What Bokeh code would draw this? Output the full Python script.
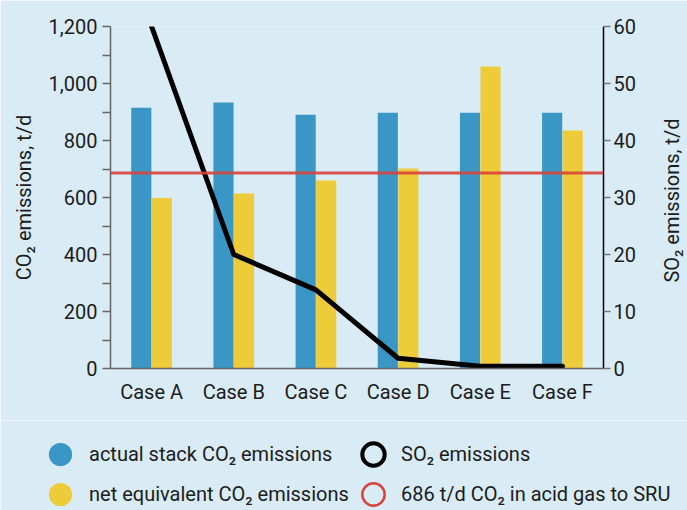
import math
from bokeh.plotting import figure
from bokeh.models import (ColumnDataSource, FactorRange, Range1d, LinearAxis, Span, Label,
                          Legend, LegendItem, NumeralTickFormatter, FixedTicker)
from bokeh.transform import dodge
from bokeh.embed import file_html
from bokeh.resources import INLINE

cases = ["Case A", "Case B", "Case C", "Case D", "Case E", "Case F"]
actual_co2 = [915, 933, 890, 897, 897, 897]
net_co2 = [598, 614, 660, 702, 1060, 835]
so2 = [60, 20, 13.8, 1.8, 0.4, 0.4]
acid_gas_co2 = 686

FONT = "Roboto"
BG = "#d9ebf5"
BLUE = "#3a97c5"
YELLOW = "#eecb38"
RED = "#d7433b"
TXT = "#1c1c1c"

src = ColumnDataSource(dict(cases=cases, actual=actual_co2, net=net_co2, so2=so2))

p = figure(x_range=FactorRange(factors=cases, range_padding=0),
           y_range=Range1d(0, 1200), width=687, height=420,
           output_backend="svg", toolbar_location=None,
           min_border_left=110, min_border_right=84, min_border_top=26, min_border_bottom=52)
p.background_fill_color = BG
p.border_fill_color = BG
p.outline_line_color = None
p.grid.visible = False

p.extra_y_ranges = {"so2": Range1d(0, 60)}

p.vbar(x=dodge("cases", -0.125, range=p.x_range), top="actual", width=0.245,
       bottom=0, source=src, fill_color=BLUE, line_color=None)
p.vbar(x=dodge("cases", 0.125, range=p.x_range), top="net", width=0.245,
       bottom=0, source=src, fill_color=YELLOW, line_color=None)

span = Span(location=acid_gas_co2, dimension="width", line_color=RED, line_width=3, line_alpha=0.9)
p.add_layout(span)

p.line(x="cases", y="so2", source=src, y_range_name="so2", line_color="black",
       line_width=5, line_join="round", line_cap="round")

# left axis
ya = p.yaxis[0]
ya.axis_label = "CO₂ emissions, t/d"
ya.formatter = NumeralTickFormatter(format="0,0")
ya.ticker = FixedTicker(ticks=[0, 200, 400, 600, 800, 1000, 1200],
                        minor_ticks=[100, 300, 500, 700, 900, 1100])
ya.axis_line_color = "#666666"
ya.axis_line_width = 1.5
ya.major_tick_line_color = "#666666"
ya.minor_tick_line_color = "#666666"
ya.major_tick_line_width = 1.5
ya.minor_tick_line_width = 1.5
ya.major_tick_in = 0
ya.major_tick_out = 8
ya.minor_tick_in = 0
ya.minor_tick_out = 8

# right axis (label drawn separately so it reads bottom-to-top and is centred)
ra = LinearAxis(y_range_name="so2")
ra.ticker = FixedTicker(ticks=[0, 10, 20, 30, 40, 50, 60], minor_ticks=[])
ra.axis_line_color = "black"
ra.axis_line_width = 1.5
ra.major_tick_line_color = "#777777"
ra.major_tick_line_width = 1.5
ra.major_tick_in = 0
ra.major_tick_out = 7
p.add_layout(ra, "right")

xa = p.xaxis[0]
xa.axis_line_color = "#666666"
xa.axis_line_width = 1.5
xa.major_tick_line_color = None
xa.minor_tick_line_color = None

for ax in (ya, ra, xa):
    ax.major_label_text_font = FONT
    ax.major_label_text_font_size = "20px"
    ax.major_label_text_color = TXT
    ax.axis_label_text_font = FONT
    ax.axis_label_text_font_size = "20px"
    ax.axis_label_text_font_style = "normal"
    ax.axis_label_text_color = TXT
ya.major_label_standoff = 5
ra.major_label_standoff = 3
xa.major_label_standoff = 5
ya.axis_label_standoff = 10

so2_label = Label(x=33, y=168, x_units="screen", y_units="screen",
                  text="SO₂ emissions, t/d", angle=math.pi / 2,
                  text_align="center", text_baseline="middle",
                  text_font=FONT, text_font_size="20px", text_color=TXT)
p.add_layout(so2_label, "right")

# legend figure (separate root, placed under the chart)
lf = figure(width=687, height=90, x_range=Range1d(0, 1), y_range=Range1d(0, 1),
            output_backend="svg", toolbar_location=None,
            x_axis_type=None, y_axis_type=None, min_border=0,
            min_border_left=0, min_border_right=0, min_border_top=0, min_border_bottom=0)
lf.background_fill_color = BG
lf.border_fill_color = BG
lf.outline_line_color = None
lf.grid.visible = False

nan = float("nan")
g_act = lf.scatter([nan], [nan], fill_color=BLUE, line_color=None)
g_net = lf.scatter([nan], [nan], fill_color=YELLOW, line_color=None)
g_so2 = lf.scatter([nan], [nan], fill_color=None, line_color="black", line_width=4)
g_red = lf.scatter([nan], [nan], fill_color=None, line_color=RED, line_width=2.5)

GW = 58  # legend marker is drawn at 0.4 of the glyph box

def mk_legend(label, rend, loc, gw=GW):
    lg = Legend(items=[LegendItem(label=label, renderers=[rend])], location=loc,
                background_fill_alpha=0, border_line_color=None,
                label_text_font=FONT, label_text_font_size="20px", label_text_color=TXT,
                glyph_width=gw, glyph_height=gw, spacing=0, padding=0, margin=0,
                label_standoff=-1)
    lf.add_layout(lg)
    return lg

# loc = (left, bottom) of legend box in frame pixels from bottom-left
mk_legend("actual stack CO₂ emissions", g_act, (31, 90 - 34 - GW // 2))
mk_legend("net equivalent CO₂ emissions", g_net, (31, 90 - 74 - GW // 2))
mk_legend("SO₂ emissions", g_so2, (345, 90 - 34 - 28), gw=56)
mk_legend("686 t/d CO₂ in acid gas to SRU", g_red, (345, 90 - 74 - 28), gw=56)

open("out.html", "w").write(file_html([p, lf], INLINE))
